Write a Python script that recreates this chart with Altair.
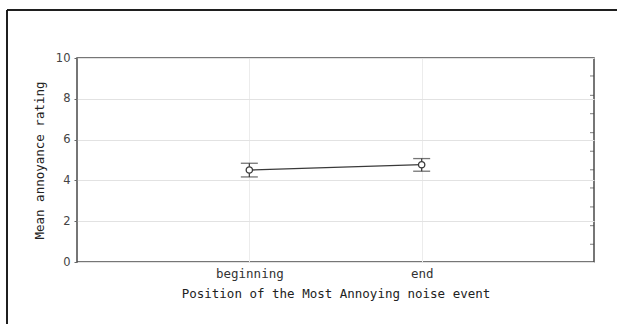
import altair as alt
import pandas as pd

# Mean annoyance rating by position of the most annoying noise event
categories = ["beginning", "end"]
means = [4.51, 4.77]
upper = [4.84, 5.07]
lower = [4.17, 4.45]

# minor tick positions drawn along the inside of the right frame
right_ticks = [0.87, 1.78, 2.70, 3.63, 4.52, 5.43, 6.34, 7.27, 8.17, 9.12]

df = pd.DataFrame({"position": categories, "mean": means,
                   "upper": upper, "lower": lower})
ticks_df = pd.DataFrame({"v": right_ticks})

PW, PH = 517, 204
INK = "#3a3a3a"

x_enc = alt.X("position:N", sort=categories,
              scale=alt.Scale(type="point", padding=1),
              axis=alt.Axis(title="Position of the Most Annoying noise event",
                            labelAngle=0, tickSize=0, labelPadding=5,
                            titlePadding=8,
                            gridColor="#ececec", grid=True))
y_scale = alt.Scale(domain=[0, 10], nice=False, zero=True)
y_enc = alt.Y("mean:Q", scale=y_scale,
              axis=alt.Axis(title="Mean annoyance rating", values=[0, 2, 4, 6, 8, 10],
                            tickSize=3, tickColor="#666", labelPadding=4,
                            titlePadding=9, gridColor="#e2e2e2",
                            labelFont="DejaVu Sans", labelFontSize=11.5,
                            labelColor="#444"))

base = alt.Chart(df)

line = base.mark_line(color=INK, strokeWidth=1.3).encode(x=x_enc, y=y_enc)
err = base.mark_rule(color=INK, strokeWidth=1.2).encode(
    x=alt.X("position:N", sort=categories), y=alt.Y("lower:Q"), y2="upper:Q")
cap_hi = base.mark_tick(color=INK, thickness=1.3, size=17, orient="horizontal").encode(
    x=alt.X("position:N", sort=categories), y=alt.Y("upper:Q"))
cap_lo = base.mark_tick(color=INK, thickness=1.3, size=17, orient="horizontal").encode(
    x=alt.X("position:N", sort=categories), y=alt.Y("lower:Q"))
pts = base.mark_point(shape="circle", filled=False, size=40, color=INK,
                      fill="white", fillOpacity=1, strokeWidth=1.3).encode(
    x=alt.X("position:N", sort=categories), y=alt.Y("mean:Q"))

minor = alt.Chart(ticks_df).mark_tick(color="#444", thickness=1, size=4,
                                      orient="horizontal").encode(
    x=alt.value(PW - 2), y=alt.Y("v:Q", scale=y_scale))

# outer frame of the figure (top and left edges)
frame_top = alt.Chart(df).mark_rule(color="#111", strokeWidth=1.5).encode(
    x=alt.value(-70), x2=alt.value(600), y=alt.value(-48))
frame_left = alt.Chart(df).mark_rule(color="#111", strokeWidth=1.5).encode(
    x=alt.value(-70), y=alt.value(-48), y2=alt.value(300))

chart = alt.layer(line, err, cap_hi, cap_lo, pts, minor, frame_top, frame_left).properties(
    width=PW, height=PH,
    autosize=alt.AutoSizeParams(type="none"),
    padding={"left": 77, "top": 58, "right": 23, "bottom": 62},
    background="white",
).configure_view(
    stroke="#4a4a4a", strokeWidth=1.5
).configure_axis(
    domain=False,
    labelFont="DejaVu Sans Mono", labelFontSize=12.5, labelColor="#333",
    titleFont="DejaVu Sans Mono", titleFontSize=12.5, titleFontWeight="normal",
    titleColor="#222",
)

chart.save("out.html", embed_options={"renderer": "svg", "actions": False})
